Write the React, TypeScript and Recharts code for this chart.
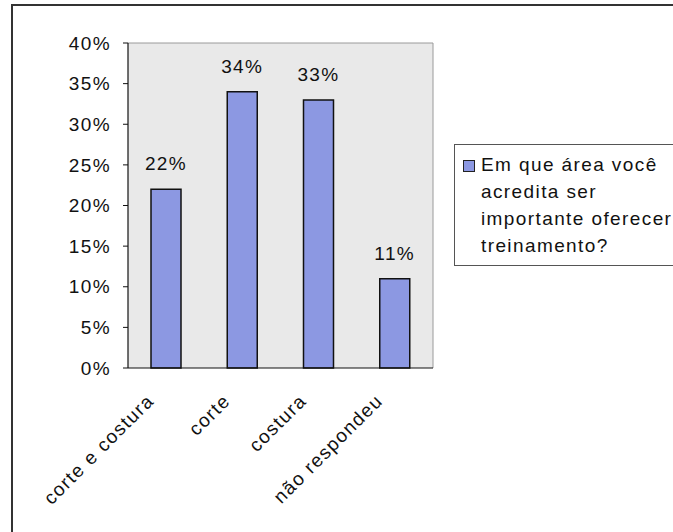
import { BarChart, Bar, XAxis, YAxis, CartesianGrid, LabelList, Legend } from "recharts";

// survey answers, share of respondents (%)
const categories = ["corte e costura", "corte", "costura", "não respondeu"];
const shares = [22, 34, 33, 11];
const yTicks = [0, 5, 10, 15, 20, 25, 30, 35, 40];
const bandEdges = [0, 1, 2, 3, 4];
const seriesName = "Em que área você acredita ser importante oferecer treinamento?";
const legendLines = ["Em que área você", "acredita ser", "importante oferecer", "treinamento?"];

const FONT = "Arial, 'Liberation Sans', sans-serif";
const BAR_FILL = "#8c98e2";
const INK = "#111";

const data = categories.map((name, i) => ({ name, value: shares[i] }));

/* ===== Rotated category label ===== */
function CategoryTick({ x, y, payload }: any) {
  const ax = x - 11;
  const ay = y + 34;
  return (
    <text
      x={ax}
      y={ay}
      transform={`rotate(-45, ${ax}, ${ay})`}
      textAnchor="end"
      fontSize={19}
      fontFamily={FONT}
      letterSpacing={1.4}
      fill={INK}
    >
      {payload.value}
    </text>
  );
}

/* ===== Boxed legend ===== */
function LegendBox() {
  return (
    <div
      style={{
        position: "relative",
        width: 219,
        boxSizing: "border-box",
        borderTop: "1px solid #555",
        borderLeft: "1px solid #555",
        borderBottom: "1px solid #555",
        padding: "6px 0",
        fontFamily: FONT,
        fontSize: 19,
        letterSpacing: 1.4,
        lineHeight: "27px",
        color: INK,
      }}
      title={seriesName}
    >
      <span
        style={{
          position: "absolute",
          left: 8,
          top: 15,
          width: 10,
          height: 10,
          background: BAR_FILL,
          border: "1px solid #222",
        }}
      />
      {legendLines.map((line) => (
        <div key={line} style={{ paddingLeft: 26, whiteSpace: "nowrap" }}>
          {line}
        </div>
      ))}
    </div>
  );
}

export default function App() {
  return (
    <div
      style={{
        position: "absolute",
        left: 0,
        top: 0,
        width: 673,
        height: 532,
        overflow: "hidden",
        background: "#fff",
      }}
    >
      <BarChart
        width={673}
        height={532}
        data={data}
        margin={{ top: 43, right: 240, bottom: 0, left: 0 }}
        style={{ position: "absolute", left: 0, top: 0 }}
      >
        <CartesianGrid
          fill="#e9e9e9"
          fillOpacity={1}
          stroke="#9a9a9a"
          horizontalCoordinatesGenerator={({ offset }: any) => [offset.top]}
          verticalCoordinatesGenerator={({ offset }: any) => [offset.left + offset.width]}
        />
        {/* tick marks between categories */}
        <XAxis
          xAxisId="edges"
          type="number"
          domain={[0, 4]}
          ticks={bandEdges}
          height={0}
          axisLine={false}
          tick={false}
          tickLine={{ stroke: INK }}
          tickSize={6}
        />
        <XAxis
          dataKey="name"
          height={164}
          interval={0}
          axisLine={{ stroke: INK, strokeWidth: 1.2 }}
          tickLine={false}
          tickSize={0}
          tickMargin={0}
          tick={<CategoryTick />}
        />
        <YAxis
          width={128}
          domain={[0, 40]}
          ticks={yTicks}
          interval={0}
          tickFormatter={(v) => `${v}%`}
          axisLine={{ stroke: INK, strokeWidth: 1.2 }}
          tickLine={{ stroke: INK }}
          tickSize={5}
          tickMargin={12}
          tick={{ fontSize: 19, fontFamily: FONT, fill: INK, letterSpacing: 1.4 }}
        />
        <Legend
          layout="horizontal"
          verticalAlign="middle"
          align="center"
          wrapperStyle={{ left: 454, top: 144, width: 219, height: 122 }}
          content={() => <LegendBox />}
        />
        <Bar
          dataKey="value"
          name={seriesName}
          fill={BAR_FILL}
          stroke="#111"
          strokeWidth={1.5}
          barSize={30}
          isAnimationActive={false}
        >
          <LabelList
            dataKey="value"
            position="top"
            offset={19}
            formatter={(v: any) => `${v}%`}
            fontSize={19}
            fontFamily={FONT}
            letterSpacing={1.4}
            fill={INK}
          />
        </Bar>
      </BarChart>
      {/* outer frame, open on the right and bottom */}
      <div
        style={{
          position: "absolute",
          left: 11,
          top: 4,
          width: 700,
          height: 560,
          borderTop: "2px solid #333",
          borderLeft: "2px solid #333",
          pointerEvents: "none",
        }}
      />
    </div>
  );
}
